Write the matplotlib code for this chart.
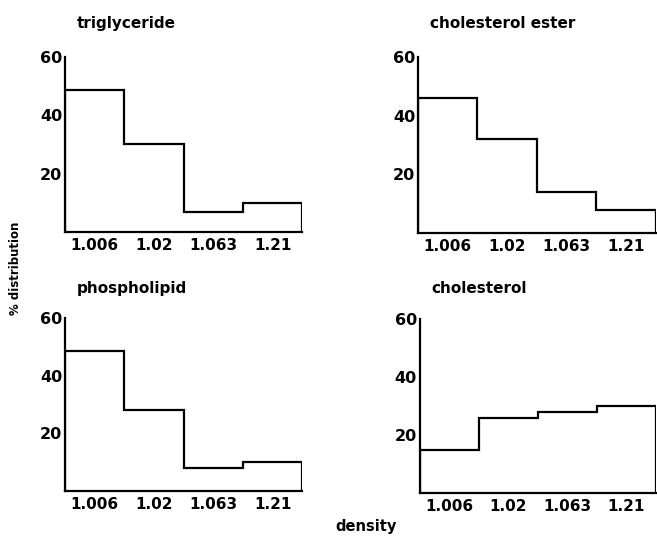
import matplotlib
matplotlib.use('Agg')
import matplotlib.pyplot as plt

# density classes (upper bounds of each fraction)
density_labels = ['1.006', '1.02', '1.063', '1.21']

titles = ['triglyceride', 'cholesterol ester', 'phospholipid', 'cholesterol']

# % distribution per density class
triglyceride = [48.5, 30, 7, 10]
cholesterol_ester = [46, 32, 14, 8]
phospholipid = [48.5, 28, 8, 10]
cholesterol = [15, 26, 28, 30]

series = [triglyceride, cholesterol_ester, phospholipid, cholesterol]

y_ticks = [20, 40, 60]

# axes rectangles in figure fractions (left, bottom, width, height)
rects = [
    (0.099, 0.572, 0.361, 0.323),
    (0.636, 0.570, 0.362, 0.325),
    (0.099, 0.094, 0.361, 0.319),
    (0.639, 0.090, 0.359, 0.321),
]
title_pads = [21, 21, 18, 19]

LW = 1.6
fig = plt.figure(figsize=(6.57, 5.42), dpi=100, facecolor='white')

for vals, title, r, tp in zip(series, titles, rects, title_pads):
    ax = fig.add_axes(r)
    edges = list(range(len(vals) + 1))
    ax.stairs(vals, edges, baseline=0, color='black', lw=LW)
    ax.set_xlim(0, len(vals))
    ax.set_ylim(0, 60)
    for s in ['top', 'right']:
        ax.spines[s].set_visible(False)
    for s in ['left', 'bottom']:
        ax.spines[s].set_linewidth(LW)
    ax.set_xticks([e + 0.5 for e in edges[:-1]])
    ax.set_xticklabels(density_labels, fontsize=11, fontweight='bold')
    ax.set_yticks(y_ticks)
    ax.set_yticklabels([str(t) for t in y_ticks], fontsize=11.5, fontweight='bold')
    ax.tick_params(axis='both', length=0)
    ax.tick_params(axis='x', pad=4)
    ax.tick_params(axis='y', pad=2)
    ax.set_title(title, loc='left', fontsize=11, fontweight='bold', x=0.05, pad=tp)

fig.text(0.023, 0.505, '% distribution', rotation=90, ha='center', va='center',
         fontsize=8.5, fontweight='bold')
fig.text(0.557, 0.028, 'density', ha='center', va='center',
         fontsize=10.5, fontweight='bold')

fig.savefig('out.png', dpi=100, facecolor='white')
